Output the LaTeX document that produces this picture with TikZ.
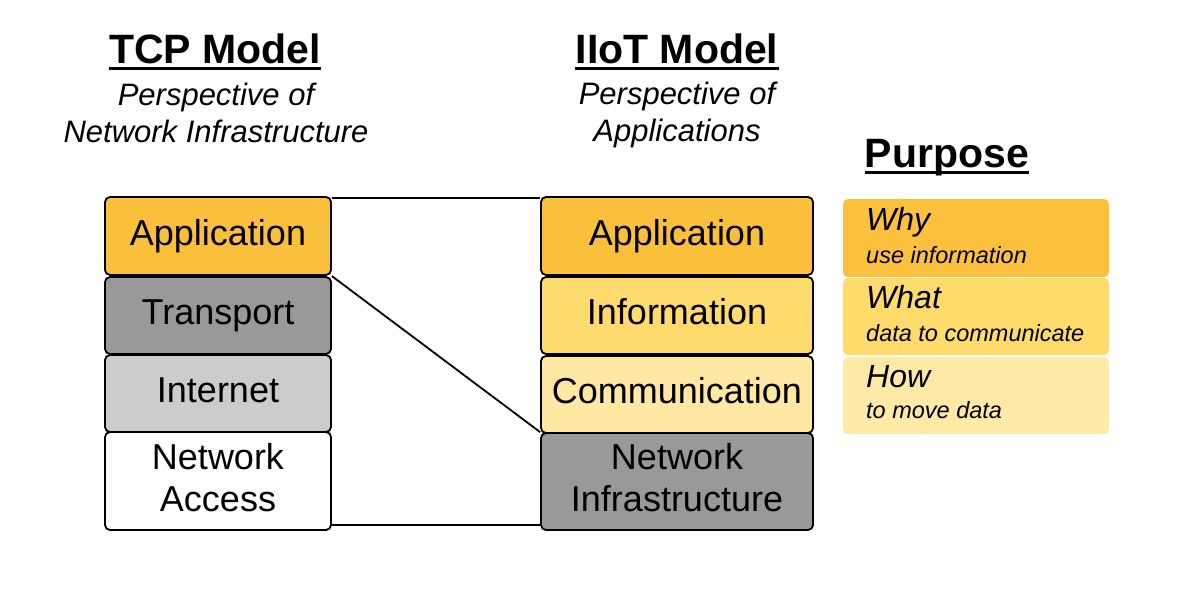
\documentclass[tikz,border=0pt]{standalone}
\usepackage{fontspec}
\setmainfont{Liberation Sans}
\definecolor{appc}{HTML}{FBC03B}
\definecolor{infoc}{HTML}{FFDB6E}
\definecolor{commc}{HTML}{FFE8A3}
\definecolor{darkg}{HTML}{999999}
\definecolor{lightg}{HTML}{CCCCCC}
\definecolor{whyc}{HTML}{FBC13C}
\definecolor{whatc}{HTML}{FFDB6C}
\definecolor{howc}{HTML}{FFE9A6}
\begin{document}
\begin{tikzpicture}[x=1pt,y=-1pt,
  layer/.style={draw=black,line width=1.8pt,rounded corners=5pt,inner sep=0pt,align=center,
    text height=26pt,text depth=8pt,
    font=\fontsize{36}{42}\selectfont},
  twoline/.style={text height=68pt},
  tcpbox/.style={layer,minimum width=226pt},
  iotbox/.style={layer,minimum width=272pt},
  purbox/.style={rounded corners=5pt,inner sep=0pt,minimum width=266pt},
  title/.style={font=\fontsize{41}{48}\selectfont\bfseries,inner sep=0pt,anchor=base},
  subtitle/.style={font=\fontsize{31}{37}\selectfont\itshape,inner sep=0pt,anchor=base},
  bigit/.style={font=\fontsize{32}{38}\selectfont\itshape,inner sep=0pt,anchor=base west},
  smallit/.style={font=\fontsize{23.5}{28}\selectfont\itshape,inner sep=0pt,anchor=base west},
  uline/.style={line width=3pt},
  conn/.style={line width=1.8pt}
]
\useasboundingbox (0,0) rectangle (1186,603);

% titles
\node[title] (tcpt) at (215,63) {TCP Model};
\draw[uline] ([yshift=-5pt]tcpt.base west) -- ([yshift=-5pt]tcpt.base east);
\node[subtitle] (tcps1) at (216,105) {Perspective of};
\node[subtitle] (tcps2) at (216,142) {Network Infrastructure};

\node[title] (iott) at (677,63) {IIoT Model};
\draw[uline] ([yshift=-5pt]iott.base west) -- ([yshift=-5pt]iott.base east);
\node[subtitle] (iots1) at (677,104) {Perspective of};
\node[subtitle] (iots2) at (677,141) {Applications};

\node[title] (purt) at (947,167) {Purpose};
\draw[uline] ([yshift=-5pt]purt.base west) -- ([yshift=-5pt]purt.base east);

% TCP stack
\node[tcpbox,fill=appc,minimum height=78pt] (tcpapp) at (218,236) {Application};
\node[tcpbox,fill=darkg,minimum height=77pt] (tcptr) at (218,315.5) {Transport};
\node[tcpbox,fill=lightg,minimum height=77pt] (tcpin) at (218,393.5) {Internet};
\node[tcpbox,twoline,fill=white,minimum height=98pt] (tcpna) at (218,481) {Network\\Access};

% IIoT stack
\node[iotbox,fill=appc,minimum height=78pt] (iotapp) at (677,236) {Application};
\node[iotbox,fill=infoc,minimum height=77pt] (iotinf) at (677,315.5) {Information};
\node[iotbox,fill=commc,minimum height=77pt] (iotcom) at (677,394.5) {Communication};
\node[iotbox,twoline,fill=darkg,minimum height=97pt] (iotni) at (677,481.5) {Network\\Infrastructure};

% connectors
\draw[conn] ([yshift=-1.5pt]tcpapp.north east) -- ([yshift=-1.5pt]iotapp.north west);
\draw[conn] (tcptr.north east) -- (iotni.north west);
\draw[conn] ([yshift=6pt]tcpna.south east) -- ([yshift=6pt]iotni.south west);

% purpose
\node[purbox,fill=whyc,minimum height=78pt] (why) at (976,238) {};
\node[purbox,fill=whatc,minimum height=77pt] (what) at (976,316.5) {};
\node[purbox,fill=howc,minimum height=77pt] (how) at (976,395.5) {};
\node[bigit] (whyt) at (866,230) {Why};
\node[smallit] (whys) at (866,263) {use information};
\node[bigit] (whatt) at (866,308) {What};
\node[smallit] (whats) at (866,341) {data to communicate};
\node[bigit] (howt) at (866,387) {How};
\node[smallit] (hows) at (866,418) {to move data};
\end{tikzpicture}
\end{document}
